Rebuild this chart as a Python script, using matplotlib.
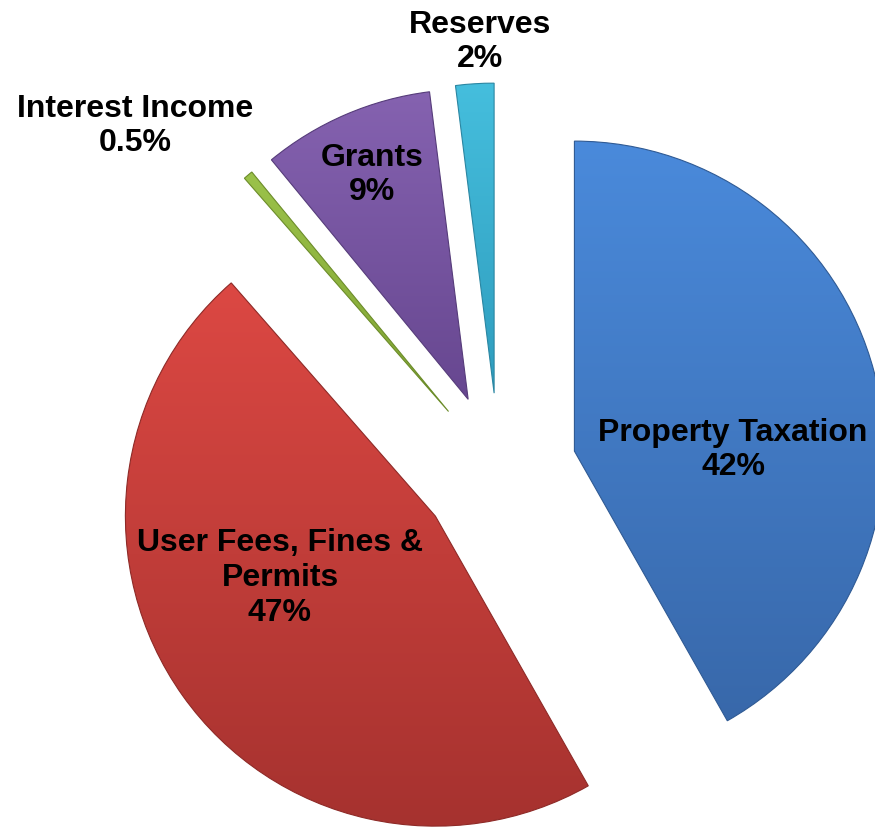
import numpy as np
import matplotlib.pyplot as plt
from matplotlib.colors import LinearSegmentedColormap

# revenue shares (%), clockwise from 12 o'clock
categories = ['Property Taxation', 'User Fees, Fines &\nPermits', 'Interest Income', 'Grants', 'Reserves']
shares = [42, 47, 0.5, 9, 2]
share_labels = ['42%', '47%', '0.5%', '9%', '2%']

# gradient colours: (top, bottom)
colors_top = ['#4A8ADB', '#DC4843', '#9BC24A', '#8562B0', '#45BEDD']
colors_bot = ['#3868AA', '#A6322F', '#7FA232', '#674790', '#2F9DBE']
edge_colors = ['#2F5A94', '#8E2A27', '#6C8C2A', '#563C7A', '#2A86A2']

# label anchors in figure pixels (y up)
label_xy = [(733, 377), (280, 249), (135, 701), (372, 652), (480, 785)]

W, H = 875, 827
fig = plt.figure(figsize=(W / 100, H / 100), dpi=100)
ax = fig.add_axes([0, 0, 1, 1])

radius = 310
wedges, _ = ax.pie(shares, center=(499, 356), radius=radius,
                   explode=[78] * len(shares), startangle=90,
                   counterclock=False, colors=colors_top,
                   wedgeprops=dict(linewidth=0.8))

grad = np.linspace(0, 1, 256).reshape(-1, 1)
for w, top, bot, ec in zip(wedges, colors_top, colors_bot, edge_colors):
    ext = w.get_path().get_extents()
    cmap = LinearSegmentedColormap.from_list('g', [bot, top])
    im = ax.imshow(grad, extent=[ext.x0, ext.x1, ext.y0, ext.y1], origin='lower',
                   cmap=cmap, aspect='auto', zorder=1,
                   interpolation='bilinear')
    im.set_clip_path(w)
    # wedge itself only keeps the outline, drawn above the gradient
    w.set_facecolor('none')
    w.set_edgecolor(ec)
    w.set_zorder(2)

for name, pct, (x, y) in zip(categories, share_labels, label_xy):
    ax.text(x, y, name + '\n' + pct, ha='center', va='center',
            fontsize=23, fontweight='bold', family='Liberation Sans',
            linespacing=1.2, color='black', zorder=10)

ax.set_xlim(0, W)
ax.set_ylim(0, H)
ax.set_aspect('auto')
ax.axis('off')

fig.savefig('out.png', dpi=100, facecolor='white')
